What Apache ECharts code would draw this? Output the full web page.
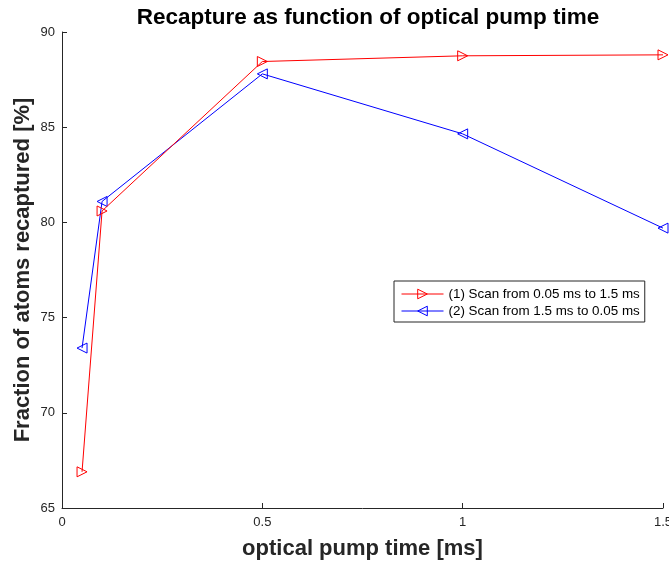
<!DOCTYPE html>
<html>
<head>
<meta charset="utf-8">
<script src="https://cdn.jsdelivr.net/npm/echarts@6/dist/echarts.min.js"></script>
<style>html,body{margin:0;padding:0;background:#fff;}#c{width:669px;height:565px;}</style>
</head>
<body>
<div id="c"></div>
<script>
const xValues = [0.05, 0.1, 0.5, 1, 1.5];
const scan1 = [66.9, 80.6, 88.45, 88.75, 88.8];
const scan2 = [73.4, 81.1, 87.8, 84.65, 79.7];
const seriesNames = ['(1) Scan from 0.05 ms to 1.5 ms', '(2) Scan from 1.5 ms to 0.05 ms'];
const seriesColors = ['#ff0000', '#0000ff'];

const font = '"Liberation Sans", Arial, Helvetica, sans-serif';
const axisColor = '#262626';
const chart = echarts.init(document.getElementById('c'));
chart.setOption({
  animation: false,
  backgroundColor: '#fff',
  title: {
    text: 'Recapture as function of optical pump time',
    left: 363, textAlign: 'center', top: 1,
    textStyle: {fontFamily: font, fontSize: 22.5, fontWeight: 'bold', color: '#000'}
  },
  grid: {left: 62, right: 6, top: 32, bottom: 57, containLabel: false, outerBoundsMode: 'none'},
  legend: {
    orient: 'vertical',
    left: 394, top: 281,
    padding: [6, 5, 4, 7],
    itemGap: 3,
    itemWidth: 42, itemHeight: 12,
    borderColor: axisColor, borderWidth: 1,
    backgroundColor: '#fff',
    textStyle: {fontFamily: font, fontSize: 13.4, color: '#000', lineHeight: 14},
    data: seriesNames.map((n, i) => ({
      name: n,
      lineStyle: {color: seriesColors[i], width: 1},
      itemStyle: {color: 'rgba(255,255,255,0)', borderColor: seriesColors[i], borderWidth: 1}
    }))
  },
  xAxis: {
    type: 'value', min: 0, max: 1.5, interval: 0.5,
    name: 'optical pump time [ms]', nameLocation: 'middle', nameGap: 30, nameMoveOverlap: false,
    nameTextStyle: {fontFamily: font, fontSize: 22, fontWeight: 'bold', color: '#262626'},
    axisLine: {show: true, lineStyle: {color: axisColor, width: 1}},
    axisTick: {show: true, inside: true, length: 5, lineStyle: {color: axisColor}},
    axisLabel: {fontFamily: font, fontSize: 13, color: axisColor, margin: 8},
    splitLine: {show: false}
  },
  yAxis: {
    type: 'value', min: 65, max: 90, interval: 5,
    name: 'Fraction of atoms recaptured [%]', nameLocation: 'middle', nameGap: 28, nameMoveOverlap: false,
    nameTextStyle: {fontFamily: font, fontSize: 22, fontWeight: 'bold', color: '#262626'},
    axisLine: {show: true, lineStyle: {color: axisColor, width: 1}},
    axisTick: {show: true, inside: true, length: 5, lineStyle: {color: axisColor}},
    axisLabel: {fontFamily: font, fontSize: 13, color: axisColor, margin: 7},
    splitLine: {show: false}
  },
  series: [
    {
      name: seriesNames[0], type: 'line',
      data: xValues.map((x, i) => [x, scan1[i]]),
      symbol: 'path://M0,0L10,5L0,10Z', symbolSize: 10, symbolKeepAspect: true,
      lineStyle: {color: seriesColors[0], width: 1},
      itemStyle: {color: 'rgba(255,255,255,0)', borderColor: seriesColors[0], borderWidth: 1},
      z: 3
    },
    {
      name: seriesNames[1], type: 'line',
      data: xValues.map((x, i) => [x, scan2[i]]),
      symbol: 'path://M10,0L0,5L10,10Z', symbolSize: 10, symbolKeepAspect: true,
      lineStyle: {color: seriesColors[1], width: 1},
      itemStyle: {color: 'rgba(255,255,255,0)', borderColor: seriesColors[1], borderWidth: 1},
      z: 2
    }
  ]
});
</script>
</body>
</html>
